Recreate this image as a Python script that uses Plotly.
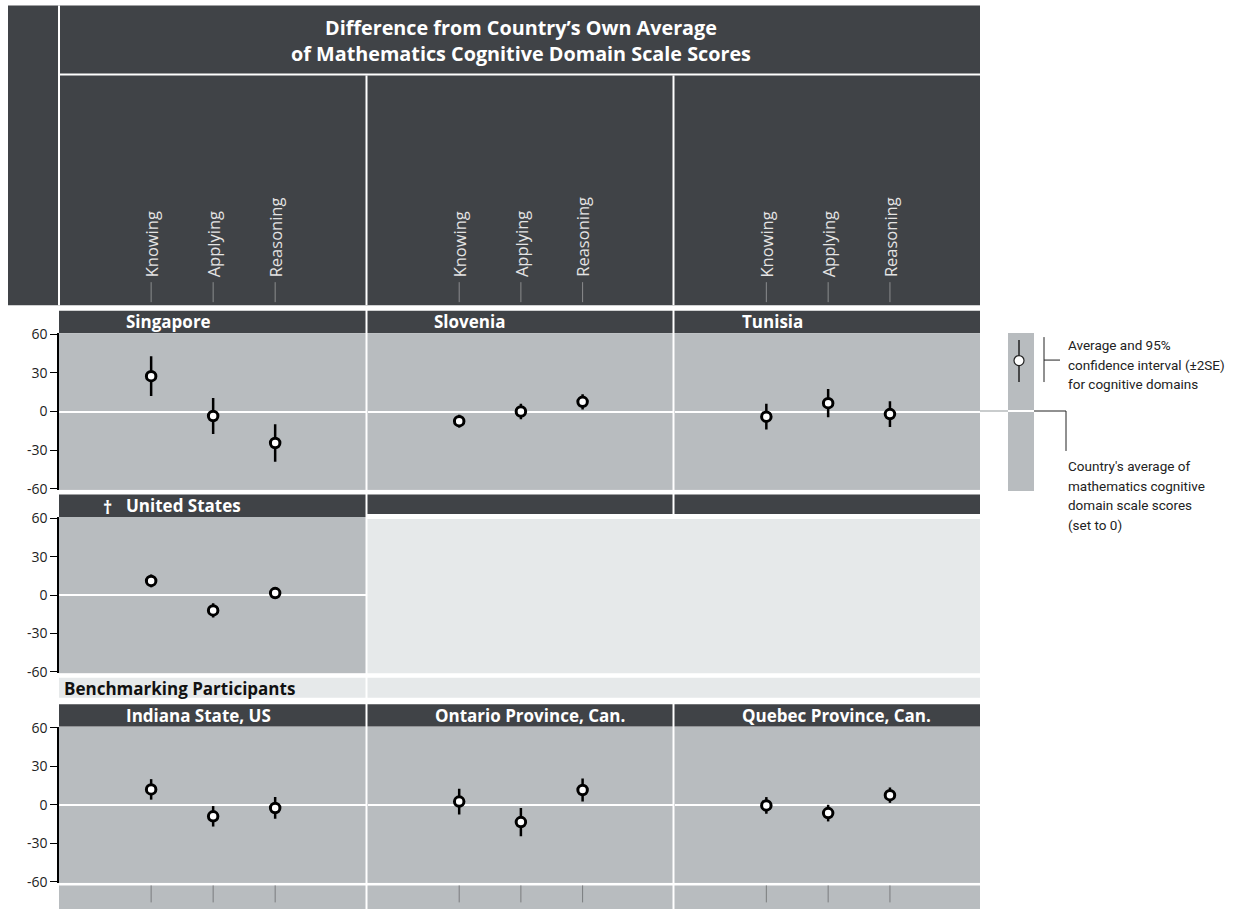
import plotly.graph_objects as go

W, H = 1235, 909

# ---------------- data ----------------
categories = ["Knowing", "Applying", "Reasoning"]
panel_names = ["Singapore", "Slovenia", "Tunisia", "United States",
               "Indiana State, US", "Ontario Province, Can.", "Quebec Province, Can."]

singapore_mean = [27.5, -3.5, -24.5]
singapore_ci = [15.5, 14.0, 14.5]
slovenia_mean = [-7.5, 0.0, 7.5]
slovenia_ci = [5.0, 6.0, 6.0]
tunisia_mean = [-4.0, 6.5, -2.0]
tunisia_ci = [10.0, 11.0, 10.0]
usa_mean = [11.0, -12.0, 1.5]
usa_ci = [5.0, 5.5, 4.5]
indiana_mean = [12.0, -9.0, -2.5]
indiana_ci = [8.0, 8.0, 8.5]
ontario_mean = [2.5, -13.5, 11.5]
ontario_ci = [10.0, 11.0, 9.0]
quebec_mean = [-0.5, -6.5, 7.5]
quebec_ci = [6.5, 6.5, 6.0]

y_ticks = [-60, -30, 0, 30, 60]

legend_text_1 = ["Average and 95%", "confidence interval (±2SE)", "for cognitive domains"]
legend_text_2 = ["Country's average of", "mathematics cognitive", "domain scale scores", "(set to 0)"]

means = [singapore_mean, slovenia_mean, tunisia_mean, usa_mean,
         indiana_mean, ontario_mean, quebec_mean]
cis = [singapore_ci, slovenia_ci, tunisia_ci, usa_ci,
       indiana_ci, ontario_ci, quebec_ci]

# ---------------- styling / layout helpers ----------------
DARK = "#404347"
GRAY = "#b8bcbf"
LIGHT = "#e6e9ea"
FONT = "Open Sans"

# vertical calibration of the photographed page
Y_OFF, Y_SCL = 7.5, 0.9825


def px(v):
    return v / W


def py(v):
    return 1 - ((v - Y_OFF) / Y_SCL) / H


cols = [(59, 365.5), (367.5, 672.5), (674.5, 980)]
rows = [(332, 489), (516, 672.5), (726, 882.5)]
header_tops = [309.5, 493.5, 703.5]
panel_pos = [(0, 0), (0, 1), (0, 2), (1, 0), (2, 0), (2, 1), (2, 2)]

fig = go.Figure()
shapes = []
annotations = []


def rect(x0, y0, x1, y1, color, layer="below"):
    shapes.append(dict(type="rect", xref="paper", yref="paper",
                       x0=px(x0), x1=px(x1), y0=py(y1), y1=py(y0),
                       fillcolor=color, line=dict(width=0), layer=layer))


def pline(x0, y0, x1, y1, color, width=1, layer="above"):
    shapes.append(dict(type="line", xref="paper", yref="paper",
                       x0=px(x0), x1=px(x1), y0=py(y0), y1=py(y1),
                       line=dict(color=color, width=width), layer=layer))


# top header
rect(8, 4, 980, 304, DARK)
pline(59, 4, 59, 304, "white", 2)
pline(60, 73, 980, 73, "white", 2)
pline(366.5, 74, 366.5, 304, "white", 2)
pline(673.5, 74, 673.5, 304, "white", 2)
annotations.append(dict(x=px(521), y=py(39), xref="paper", yref="paper",
                        text="<b>Difference from Country’s Own Average<br>of Mathematics Cognitive Domain Scale Scores</b>",
                        showarrow=False, font=dict(family=FONT, size=19.8, color="white"),
                        xanchor="center", yanchor="middle"))

layout_axes = {}
for i, (r, c) in enumerate(panel_pos):
    n = i + 1
    xa = "xaxis" if n == 1 else f"xaxis{n}"
    ya = "yaxis" if n == 1 else f"yaxis{n}"
    xr = "x" if n == 1 else f"x{n}"
    yr = "y" if n == 1 else f"y{n}"
    c0, c1 = cols[c]
    r0, r1 = rows[r]
    layout_axes[xa] = dict(domain=[px(c0), px(c1)], range=[-1.486, 3.457],
                           showticklabels=False, showgrid=False, zeroline=False,
                           showline=False, ticks="", anchor=yr, fixedrange=True)
    first = (c == 0)
    layout_axes[ya] = dict(domain=[py(r1), py(r0)], range=[-61, 61],
                           tickvals=y_ticks, ticktext=[str(t) for t in y_ticks],
                           showticklabels=first, ticks="outside" if first else "",
                           ticklen=7, tickcolor="black", tickwidth=1,
                           showline=first, linecolor="black", linewidth=1.5,
                           showgrid=False, zeroline=True, zerolinecolor="white",
                           zerolinewidth=2, anchor=xr, fixedrange=True,
                           tickfont=dict(family=FONT, size=14, color="#222"))
    fig.add_trace(go.Scatter(
        x=list(range(len(categories))), y=means[i],
        error_y=dict(type="data", array=cis[i], color="black", thickness=2.5, width=0),
        mode="markers",
        marker=dict(size=9.5, color="white", line=dict(color="black", width=3)),
        xaxis=xr, yaxis=yr, showlegend=False, hoverinfo="skip"))
    # panel header bar
    rect(c0, header_tops[r], c1, r0, DARK)
    annotations.append(dict(x=px(c0 + 65), y=py((header_tops[r] + r0) / 2),
                            xref="paper", yref="paper", text=f"<b>{panel_names[i]}</b>",
                            showarrow=False, xanchor="left", yanchor="middle",
                            font=dict(family=FONT, size=17, color="white")))
    # column category labels in the header (first row only)
    if r == 0:
        for k, cat in enumerate(categories):
            annotations.append(dict(x=k, y=py(278), xref=xr, yref="paper", text=cat,
                                    textangle=-90, showarrow=False, xanchor="center",
                                    yanchor="bottom",
                                    font=dict(family=FONT, size=16.5, color="#e4e4e4")))
            shapes.append(dict(type="line", xref=xr, yref="paper", x0=k, x1=k,
                               y0=py(301), y1=py(281), line=dict(color="#8a8c8e", width=1)))
    # bottom strip ticks (last row)
    if r == 2:
        rect(c0, 885, c1, 910, GRAY)
        for k in range(len(categories)):
            shapes.append(dict(type="line", xref=xr, yref="paper", x0=k, x1=k,
                               y0=py(902), y1=py(885), line=dict(color="#7a7c7e", width=1)))

# dagger for United States
annotations.append(dict(x=px(107), y=py((header_tops[1] + rows[1][0]) / 2 + 1),
                        xref="paper", yref="paper", text="<b>†</b>", showarrow=False,
                        xanchor="center", yanchor="middle",
                        font=dict(family=FONT, size=18, color="white")))

# empty row-2 columns
rect(367.5, 493.5, 672.5, 513, DARK)
rect(674.5, 493.5, 980, 513, DARK)
rect(367.5, 518, 980, 672.5, LIGHT)

# benchmarking band
rect(59, 677, 365.5, 697, LIGHT)
rect(367.5, 677, 980, 697, LIGHT)
annotations.append(dict(x=px(62), y=py(687.5), xref="paper", yref="paper",
                        text="<b>Benchmarking Participants</b>", showarrow=False,
                        xanchor="left", yanchor="middle",
                        font=dict(family=FONT, size=17, color="#111")))

# legend key
rect(1008, 332, 1034, 490, GRAY)
pline(980, 410, 1008, 410, "#c9cccd", 2)
pline(1008, 410, 1034, 410, "white", 2)
pline(1019, 339, 1019, 381, "#222", 1.5)
shapes.append(dict(type="circle", xref="paper", yref="paper",
                   x0=px(1014), x1=px(1024), y0=py(364.5), y1=py(354.5),
                   fillcolor="white", line=dict(color="#222", width=1.2)))
pline(1044, 336, 1044, 381, "#222", 1)
pline(1044, 359, 1060, 359, "#222", 1)
pline(1034, 410, 1066, 410, "#222", 1)
pline(1066, 410, 1066, 450, "#222", 1)
for j, t in enumerate(legend_text_1):
    annotations.append(dict(x=px(1066), y=py(344 + 19.7 * j), xref="paper", yref="paper",
                            text=t, showarrow=False, xanchor="left", yanchor="middle",
                            font=dict(family="Roboto", size=13.5, color="#222")))
for j, t in enumerate(legend_text_2):
    annotations.append(dict(x=px(1066), y=py(465 + 19.6 * j), xref="paper", yref="paper",
                            text=t, showarrow=False, xanchor="left", yanchor="middle",
                            font=dict(family="Roboto", size=13.5, color="#222")))

fig.update_layout(width=W, height=H, margin=dict(l=0, r=0, t=0, b=0),
                  paper_bgcolor="white", plot_bgcolor=GRAY,
                  shapes=shapes, annotations=annotations, **layout_axes)

pin_script = (
    "document.documentElement.style.margin='0';"
    "document.documentElement.style.overflow='hidden';"
    "document.body.style.margin='0';document.body.style.overflow='hidden';"
    "var d=document.getElementById('{plot_id}');"
    "d.style.position='fixed';d.style.top='0px';d.style.left='0px';"
)
fig.write_html("out.html", config={"displayModeBar": False}, post_script=pin_script)
